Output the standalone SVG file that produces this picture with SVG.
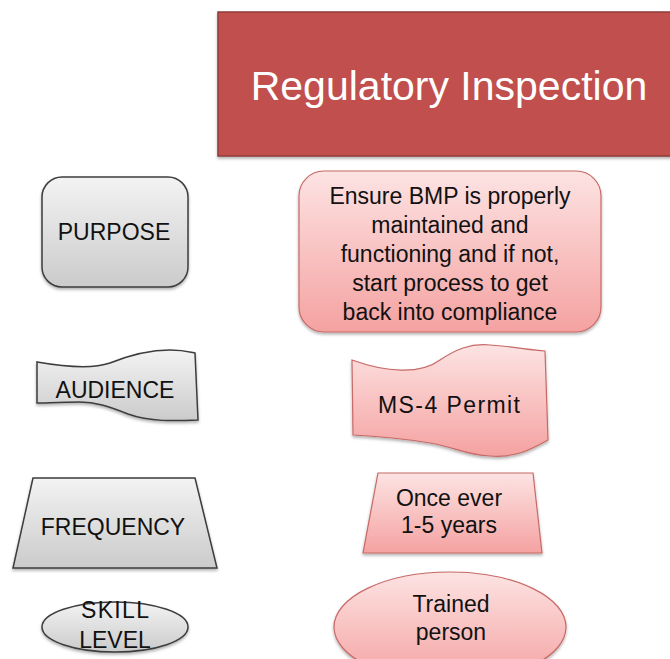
<svg xmlns="http://www.w3.org/2000/svg" width="670" height="659" viewBox="0 0 670 659">
  <defs>
    <linearGradient id="gGray" x1="0" y1="0" x2="0" y2="1">
      <stop offset="0" stop-color="#f3f3f3"/>
      <stop offset="1" stop-color="#cbcbcb"/>
    </linearGradient>
    <linearGradient id="gPink" x1="0" y1="0" x2="0" y2="1">
      <stop offset="0" stop-color="#fde3e3"/>
      <stop offset="1" stop-color="#f4a2a1"/>
    </linearGradient>
    <filter id="sh" x="-10%" y="-10%" width="120%" height="130%">
      <feDropShadow dx="0" dy="2" stdDeviation="1.5" flood-color="#000" flood-opacity="0.3"/>
    </filter>
  </defs>
  <style>
    .gray { fill: url(#gGray); stroke: #3c3c3c; stroke-width: 1.5; filter: url(#sh); }
    .pink { fill: url(#gPink); stroke: #c76a67; stroke-width: 1.2; filter: url(#sh); }
    .lbl { font-family: "Liberation Sans", Arial, sans-serif; font-size: 23px; fill: #111; text-anchor: middle; }
    .title { font-family: "Liberation Sans", Arial, sans-serif; font-size: 41px; fill: #ffffff; text-anchor: middle; }
  </style>
  <rect width="670" height="659" fill="#ffffff"/>

  <g id="title">
    <rect x="218" y="12" width="460" height="144" fill="#c0504d" stroke="#8e3a38" stroke-width="1.5" filter="url(#sh)"/>
    <text class="title" x="449" y="100">Regulatory Inspection</text>
  </g>

  <g id="purpose">
    <rect class="gray" x="42" y="177" width="146" height="110" rx="20" ry="20"/>
    <text class="lbl" x="114" y="240">PURPOSE</text>
  </g>

  <g id="purpose-value">
    <rect class="pink" x="299" y="171" width="302" height="161" rx="25" ry="25"/>
    <text class="lbl" x="450" y="204">Ensure BMP is properly</text>
    <text class="lbl" x="450" y="233">maintained and</text>
    <text class="lbl" x="450" y="262">functioning and if not,</text>
    <text class="lbl" x="450" y="291">start process to get</text>
    <text class="lbl" x="450" y="320">back into compliance</text>
  </g>

  <g id="audience">
    <path class="gray" d="M37,362 C60,366 90,370 110,363 C130,355 150,350 170,350 C183,350 190,352 195,353 L198,420 C175,421 150,422 128,414 C108,406 95,402 80,402 C60,402 45,403 37,403 Z"/>
    <text class="lbl" x="115" y="398">AUDIENCE</text>
  </g>

  <g id="audience-value">
    <path class="pink" d="M352,360 C385,372 420,375 440,360 C455,350 470,343 490,345 C515,347 530,350 545,351 L548,440 C530,450 515,458 490,456 C465,455 455,447 430,443 C400,438 375,436 353,435 Z"/>
    <text class="lbl" x="449" y="413" font-size="24" textLength="142" lengthAdjust="spacing">MS-4 Permit</text>
  </g>

  <g id="frequency">
    <polygon class="gray" points="33,478 195,478 217,568 13,568"/>
    <text class="lbl" x="113" y="535">FREQUENCY</text>
  </g>

  <g id="frequency-value">
    <polygon class="pink" points="378,473 533,473 542,553 363,553"/>
    <text class="lbl" x="449" y="506">Once ever</text>
    <text class="lbl" x="449" y="533">1-5 years</text>
  </g>

  <g id="skill">
    <ellipse class="gray" cx="115" cy="627" rx="73" ry="25"/>
    <text class="lbl" x="115" y="618" font-size="24" textLength="68" lengthAdjust="spacing">SKILL</text>
    <text class="lbl" x="115" y="648" font-size="24">LEVEL</text>
  </g>

  <g id="skill-value">
    <ellipse class="pink" cx="450" cy="627" rx="116" ry="55"/>
    <text class="lbl" x="451" y="612">Trained</text>
    <text class="lbl" x="451" y="640">person</text>
  </g>

  <g id="connectors"></g>
</svg>
